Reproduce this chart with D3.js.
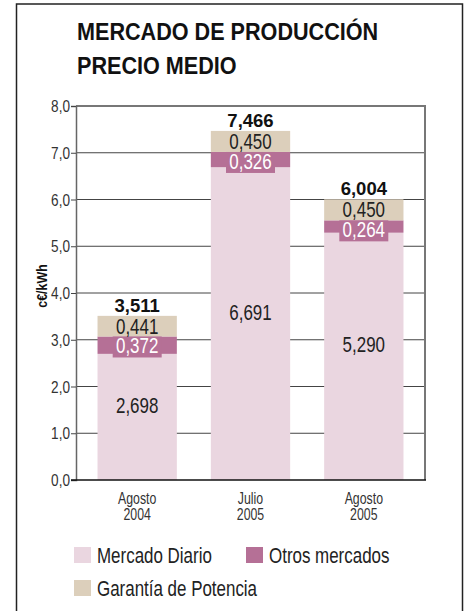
<!DOCTYPE html>
<html><head><meta charset="utf-8">
<script src="https://cdn.jsdelivr.net/npm/d3@7"></script>
<style>
body{margin:0;background:#fff;}
text{font-family:"Liberation Sans",Arial,sans-serif;}
</style></head><body>
<svg id="c" width="464" height="611"></svg>
<script>
const categories = [["Agosto","2004"],["Julio","2005"],["Agosto","2005"]];
const mercadoDiario = [2.698, 6.691, 5.290];
const otrosMercados = [0.372, 0.326, 0.264];
const garantiaPotencia = [0.441, 0.450, 0.450];
const totals = [3.511, 7.466, 6.004];
const yTicks = [0,1,2,3,4,5,6,7,8];
const seriesNames = ["Mercado Diario","Otros mercados","Garantía de Potencia"];
const colors = ["#ead6e0","#b57096","#dccfbb"];

const fmt = v => d3.format(".3f")(v).replace(".", ",");
const fmt1 = v => d3.format(".1f")(v).replace(".", ",");

const svg = d3.select("#c");
// condensed text helper
function txt(parent, x, y, s, o){
  o = o || {};
  return parent.append("text")
    .attr("transform",`translate(${x},${y}) scale(${o.sx||0.77},1)${o.rot?` rotate(${o.rot})`:""}`)
    .attr("text-anchor",o.anchor||"start")
    .attr("font-size",o.fs||20)
    .attr("font-weight",o.bold?"bold":"normal")
    .attr("fill",o.fill||"#222")
    .text(s);
}

// outer frame
svg.append("rect").attr("x",16.5).attr("y",4).attr("width",446).attr("height",620)
  .attr("fill","none").attr("stroke","#222").attr("stroke-width",1.5);

// title
txt(svg,77,40,"MERCADO DE PRODUCCIÓN",{fs:24,bold:true,sx:0.9,fill:"#111"});
txt(svg,77,74,"PRECIO MEDIO",{fs:24,bold:true,sx:0.9,fill:"#111"});

const L = 76, R = 425, T = 106, B = 480;
const x = d3.scaleBand().domain(d3.range(categories.length)).range([L,R]).paddingInner(0.3).paddingOuter(0.19);
const y = d3.scaleLinear().domain([0,8]).range([B,T]);

// gridlines
svg.append("g").selectAll("line").data(yTicks.filter(t=>t>0 && t<8)).join("line")
  .attr("x1",L).attr("x2",R).attr("y1",d=>y(d)).attr("y2",d=>y(d))
  .attr("stroke","#444").attr("stroke-width",1);
// top & right frame
svg.append("line").attr("x1",L).attr("x2",R).attr("y1",y(8)).attr("y2",y(8)).attr("stroke","#777").attr("stroke-width",2);
svg.append("line").attr("x1",R).attr("x2",R).attr("y1",y(8)-1).attr("y2",B).attr("stroke","#777").attr("stroke-width",2);

// stacked data
const rows = categories.map((c,i)=>({i, md:mercadoDiario[i], om:otrosMercados[i], gp:garantiaPotencia[i]}));
const stack = d3.stack().keys(["md","om","gp"])(rows);
const g = svg.append("g");
stack.forEach((s,k)=>{
  g.selectAll(null).data(s).join("rect")
    .attr("x",d=>x(d.data.i)).attr("width",x.bandwidth())
    .attr("y",d=>y(d[1])).attr("height",d=>y(d[0])-y(d[1]))
    .attr("fill",colors[k]);
});

// y axis
const yAxis = d3.axisLeft(y).tickValues(yTicks).tickFormat("").tickSize(5);
const ya = svg.append("g").attr("transform",`translate(${L},0)`).call(yAxis);
ya.select(".domain").attr("stroke","#666").attr("stroke-width",1.5);
ya.selectAll(".tick line").attr("stroke","#444");
yTicks.forEach(t=>txt(svg, L-6, y(t)+6, fmt1(t), {fs:17, anchor:"end", sx:0.8, fill:"#333"}));
// bottom axis line
svg.append("line").attr("x1",L-5).attr("x2",R+1).attr("y1",B).attr("y2",B).attr("stroke","#111").attr("stroke-width",1.5);

// y title
svg.append("text").attr("transform",`translate(47,286) rotate(-90) scale(0.83,1)`)
  .attr("text-anchor","middle").attr("font-weight","bold").attr("font-size",15).attr("fill","#111").text("c€/kWh");

// labels
const cx = i => x(i)+x.bandwidth()/2;
const lab = svg.append("g");
// otros mercados label boxes
stack[1].forEach(d=>{
  lab.append("rect").attr("x",cx(d.data.i)-24.5).attr("width",49).attr("y",y(d[1])).attr("height",21).attr("fill",colors[1]);
  txt(lab, cx(d.data.i), y(d[1])+17, fmt(d.data.om), {fs:22, anchor:"middle", fill:"#fff"});
});
stack[2].forEach(d=>{
  txt(lab, cx(d.data.i), (y(d[0])+y(d[1]))/2+7.5, fmt(d.data.gp), {fs:22, anchor:"middle"});
});
stack[0].forEach(d=>{
  txt(lab, cx(d.data.i), (y(d[0])+y(d[1]))/2-4, fmt(d.data.md), {fs:22, anchor:"middle"});
});
totals.forEach((t,i)=>{
  txt(lab, cx(i), y(t)-4, fmt(t), {fs:18.5, bold:true, sx:1, anchor:"middle", fill:"#111"});
});

// category labels
categories.forEach((c,i)=>{
  txt(svg, cx(i), 504, c[0], {fs:16, anchor:"middle", fill:"#333"});
  txt(svg, cx(i), 520, c[1], {fs:16, anchor:"middle", fill:"#333"});
});

// legend
const legend = [{n:seriesNames[0],c:colors[0],x:74,y:547},{n:seriesNames[1],c:colors[1],x:246,y:547},{n:seriesNames[2],c:colors[2],x:74,y:580}];
legend.forEach(d=>{
  svg.append("rect").attr("x",d.x).attr("y",d.y).attr("width",17).attr("height",16).attr("fill",d.c);
  txt(svg, d.x+23, d.y+16, d.n, {fs:22});
});
</script></body></html>
